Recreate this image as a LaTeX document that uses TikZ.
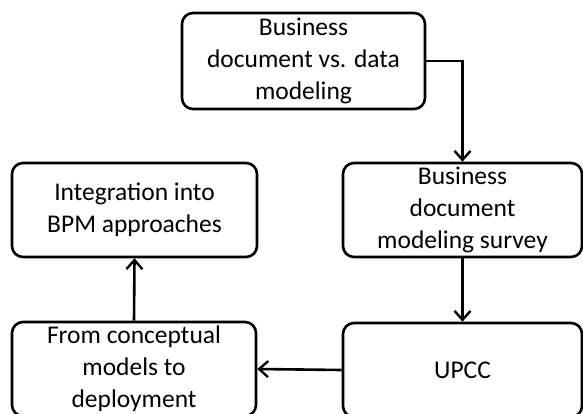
\documentclass[tikz,border=0pt]{standalone}
\usepackage{fontspec}
\setmainfont{Carlito}
\usetikzlibrary{arrows.meta}
\begin{document}
\begin{tikzpicture}[x=1pt,y=-1pt,
  box/.style={draw=black, line width=2.6pt, rounded corners=11pt, fill=white,
    align=center, inner sep=0pt,
    font=\fontsize{25.5}{32}\selectfont},
  conn/.style={draw=black, line width=2.6pt, -{Straight Barb[length=9pt,width=16pt,line width=2.4pt]}}]
\useasboundingbox (0,0) rectangle (583,414);
\node[box, minimum width=243pt, minimum height=96pt] (A) at (303.5,61) {Business\\document vs. data\\modeling};
\node[box, minimum width=239pt, minimum height=94pt] (B) at (462.5,210) {Business\\document\\modeling survey};
\node[box, minimum width=239pt, minimum height=94pt] (C) at (462.5,370) {UPCC};
\node[box, minimum width=244pt, minimum height=94pt] (D) at (134,369) {From conceptual\\models to\\deployment};
\node[box, minimum width=245pt, minimum height=94pt] (E) at (134.5,210) {Integration into\\BPM approaches};
\draw[conn] (A.east) -| (B.north);
\draw[conn] (B.south) -- (C.north);
\draw[conn] (C.west) -- (D.east);
\draw[conn] (D.north) -- (E.south);
\end{tikzpicture}
\end{document}
